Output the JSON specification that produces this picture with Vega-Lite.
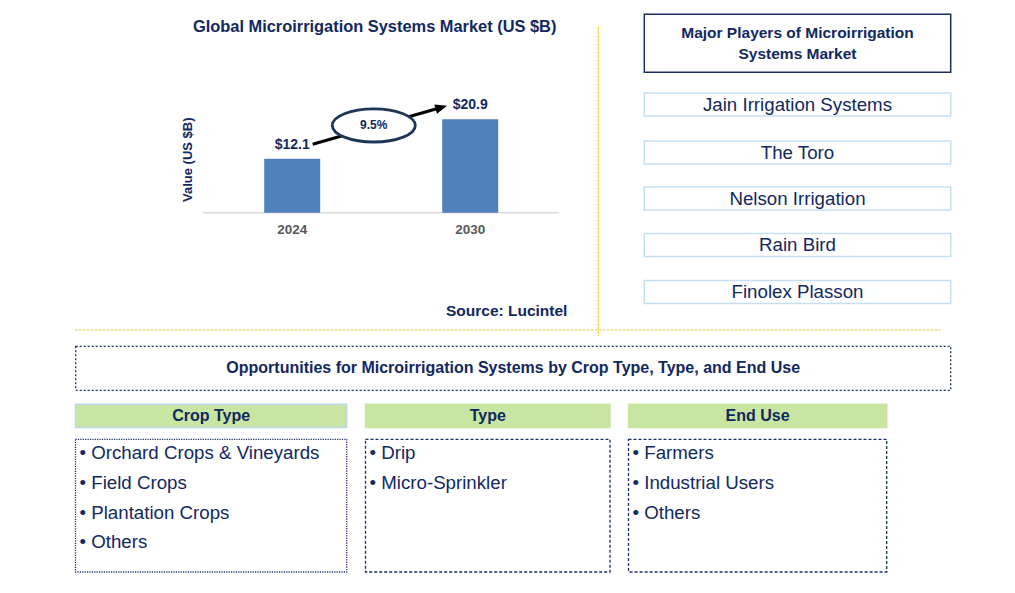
{
  "$schema": "https://vega.github.io/schema/vega-lite/v6.json",
  "width": 1015,
  "height": 593,
  "autosize": {"type": "fit", "contains": "padding"},
  "padding": 0,
  "background": "#ffffff",
  "config": {
    "view": {"stroke": null},
    "axis": {"disable": true},
    "font": "Liberation Sans",
    "text": {"font": "Liberation Sans", "baseline": "middle"}
  },
  "datasets": {
    "market": [
      {"year": 2024, "value": 12.1, "label": "$12.1"},
      {"year": 2030, "value": 20.9, "label": "$20.9"}
    ],
    "players": [
      {"player": "Jain Irrigation Systems", "rank": 1},
      {"player": "The Toro", "rank": 2},
      {"player": "Nelson Irrigation", "rank": 3},
      {"player": "Rain Bird", "rank": 4},
      {"player": "Finolex Plasson", "rank": 5}
    ],
    "groups": [
      {"group": "Crop Type", "start": 0, "end": 1},
      {"group": "Type", "start": 2, "end": 3},
      {"group": "End Use", "start": 4, "end": 5}
    ],
    "items": [
      {"group": "Crop Type", "label": "• Orchard Crops & Vineyards", "order": 1},
      {"group": "Crop Type", "label": "• Field Crops", "order": 2},
      {"group": "Crop Type", "label": "• Plantation Crops", "order": 3},
      {"group": "Crop Type", "label": "• Others", "order": 4},
      {"group": "Type", "label": "• Drip", "order": 1},
      {"group": "Type", "label": "• Micro-Sprinkler", "order": 2},
      {"group": "End Use", "label": "• Farmers", "order": 1},
      {"group": "End Use", "label": "• Industrial Users", "order": 2},
      {"group": "End Use", "label": "• Others", "order": 3}
    ]
  },
  "resolve": {"scale": {"x": "independent", "y": "independent"}},
  "layer": [
    {
      "data": {"values": [{"divider": "panels"}]},
      "layer": [
        {
          "mark": {"type": "rule", "color": "#FFC000", "strokeWidth": 1, "strokeDash": [3, 1]},
          "encoding": {
            "x": {"datum": 1, "type": "quantitative", "axis": null, "scale": {"domain": [0, 1, 2], "range": [75, 598.3, 940.7], "zero": false, "nice": false}},
            "y": {"datum": 0, "type": "quantitative", "axis": null, "scale": {"domain": [0, 1, 2], "range": [27, 330, 336], "zero": false, "nice": false}},
            "y2": {"datum": 2}
          }
        },
        {
          "mark": {"type": "rule", "color": "#FFC000", "strokeWidth": 1, "strokeDash": [3, 1], "opacity": 0.85},
          "encoding": {
            "x": {"datum": 0, "type": "quantitative"},
            "x2": {"datum": 2},
            "y": {"datum": 1, "type": "quantitative"}
          }
        }
      ]
    },
    {
      "layer": [
        {
          "data": {"values": [{"line": "baseline"}]},
          "mark": {"type": "rule", "color": "#D9D9D9", "strokeWidth": 1.5},
          "encoding": {
            "x": {"datum": 2021.0, "type": "quantitative", "axis": null, "scale": {"domain": [2024, 2030], "range": [292.2, 470.2], "zero": false, "nice": false, "padding": 0}},
            "x2": {"datum": 2033.0},
            "y": {"datum": 0, "type": "quantitative", "axis": null, "scale": {"domain": [0, 22], "range": [212.7, 114.4], "zero": false, "nice": false, "padding": 0}}
          }
        },
        {
          "data": {"name": "market"},
          "mark": {"type": "bar", "size": 56, "color": "#4F81BD"},
          "encoding": {
            "x": {"field": "year", "type": "quantitative"},
            "y": {"field": "value", "type": "quantitative"}
          }
        },
        {
          "data": {"name": "market"},
          "mark": {"type": "text", "dy": -14, "fontSize": 14, "fontWeight": "bold", "color": "#12285F"},
          "encoding": {
            "x": {"field": "year", "type": "quantitative"},
            "y": {"field": "value", "type": "quantitative"},
            "text": {"field": "label", "type": "nominal"}
          }
        },
        {
          "data": {"name": "market"},
          "mark": {"type": "text", "dy": 17.3, "fontSize": 13.5, "fontWeight": "bold", "color": "#595959"},
          "encoding": {
            "x": {"field": "year", "type": "quantitative"},
            "y": {"datum": 0, "type": "quantitative"},
            "text": {"field": "year", "type": "nominal"}
          }
        },
        {
          "data": {"values": [{"text": "Global Microirrigation Systems Market (US $B)", "year": 2026.78, "value": 41.63}]},
          "mark": {"type": "text", "fontSize": 16.4, "fontWeight": "bold", "color": "#12285F"},
          "encoding": {
            "x": {"field": "year", "type": "quantitative"},
            "y": {"field": "value", "type": "quantitative"},
            "text": {"field": "text", "type": "nominal"}
          }
        },
        {
          "data": {"values": [{"text": "Value (US $B)", "year": 2020.49, "value": 11.86}]},
          "mark": {"type": "text", "fontSize": 13, "fontWeight": "bold", "color": "#12285F", "angle": 270},
          "encoding": {
            "x": {"field": "year", "type": "quantitative"},
            "y": {"field": "value", "type": "quantitative"},
            "text": {"field": "text", "type": "nominal"}
          }
        },
        {
          "data": {"values": [{"fromYear": 2024.69, "fromValue": 15.31, "toYear": 2028.9, "toValue": 23.32}]},
          "mark": {"type": "rule", "color": "#000000", "strokeWidth": 3},
          "encoding": {
            "x": {"field": "fromYear", "type": "quantitative"},
            "y": {"field": "fromValue", "type": "quantitative"},
            "x2": {"field": "toYear"},
            "y2": {"field": "toValue"}
          }
        },
        {
          "data": {"values": [{"year": 2029.03, "value": 23.57}]},
          "mark": {"type": "point", "shape": "M1,0L-1,-0.8L-1,0.8Z", "size": 144, "angle": -16, "fill": "#000000", "stroke": null, "filled": true, "opacity": 1},
          "encoding": {
            "x": {"field": "year", "type": "quantitative"},
            "y": {"field": "value", "type": "quantitative"}
          }
        },
        {
          "data": {"values": [{"year": 2026.75, "value": 19.52, "cagr": "9.5%"}]},
          "mark": {"type": "point", "shape": "M1,0C1,0.2198,0.5523,0.398,0,0.398C-0.5523,0.398,-1,0.2198,-1,0C-1,-0.2198,-0.5523,-0.398,0,-0.398C0.5523,-0.398,1,-0.2198,1,0Z", "size": 6889, "fill": "#ffffff", "stroke": "#1E3656", "strokeWidth": 2.8, "opacity": 1, "fillOpacity": 1},
          "encoding": {
            "x": {"field": "year", "type": "quantitative"},
            "y": {"field": "value", "type": "quantitative"}
          }
        },
        {
          "data": {"values": [{"year": 2026.75, "value": 19.52, "cagr": "9.5%"}]},
          "mark": {"type": "text", "fontSize": 12, "fontWeight": "bold", "color": "#12285F"},
          "encoding": {
            "x": {"field": "year", "type": "quantitative"},
            "y": {"field": "value", "type": "quantitative"},
            "text": {"field": "cagr", "type": "nominal"}
          }
        },
        {
          "data": {"values": [{"text": "Source: Lucintel", "year": 2031.23, "value": -21.93}]},
          "mark": {"type": "text", "fontSize": 15.5, "fontWeight": "bold", "color": "#12285F"},
          "encoding": {
            "x": {"field": "year", "type": "quantitative"},
            "y": {"field": "value", "type": "quantitative"},
            "text": {"field": "text", "type": "nominal"}
          }
        }
      ]
    },
    {
      "layer": [
        {
          "data": {"name": "players"},
          "mark": {"type": "bar", "orient": "horizontal", "size": 23, "fill": "#ffffff", "stroke": "#C5DFF2", "strokeWidth": 1.5},
          "encoding": {
            "x": {"datum": 0, "type": "quantitative", "axis": null, "scale": {"domain": [0, 1], "range": [644.3, 950.7], "zero": false, "nice": false, "padding": 0}},
            "x2": {"datum": 1},
            "y": {"field": "rank", "type": "quantitative", "axis": null, "scale": {"domain": [0, 1, 2, 3, 4, 5], "range": [43.3, 104.5, 152.5, 198.5, 245, 292], "zero": false, "nice": false, "padding": 0}}
          }
        },
        {
          "data": {"name": "players"},
          "mark": {"type": "text", "fontSize": 18.7, "color": "#12285F", "align": "center"},
          "encoding": {
            "x": {"datum": 0.5, "type": "quantitative"},
            "y": {"field": "rank", "type": "quantitative"},
            "text": {"field": "player", "type": "nominal"}
          }
        },
        {
          "data": {"values": [{"heading": ["Major Players of Microirrigation", "Systems Market"]}]},
          "mark": {"type": "bar", "orient": "horizontal", "size": 58, "fill": "#ffffff", "stroke": "#1B2F63", "strokeWidth": 1.5},
          "encoding": {
            "x": {"datum": 0, "type": "quantitative"},
            "x2": {"datum": 1},
            "y": {"datum": 0, "type": "quantitative"}
          }
        },
        {
          "data": {"values": [{"heading": ["Major Players of Microirrigation", "Systems Market"]}]},
          "mark": {"type": "text", "fontSize": 15.5, "fontWeight": "bold", "color": "#12285F", "align": "center", "lineHeight": 21, "dy": -10.5},
          "encoding": {
            "x": {"datum": 0.5, "type": "quantitative"},
            "y": {"datum": 0, "type": "quantitative"},
            "text": {"field": "heading"}
          }
        }
      ]
    },
    {
      "data": {"values": [{"title": "Opportunities for Microirrigation Systems by Crop Type, Type, and End Use"}]},
      "layer": [
        {
          "mark": {"type": "rect", "fill": "#ffffff", "stroke": "#1B2F63", "strokeWidth": 1.3, "strokeDash": [2, 2]},
          "encoding": {
            "x": {"datum": 0, "type": "quantitative", "axis": null, "scale": {"domain": [0, 1], "range": [75.7, 950.7], "zero": false, "nice": false, "padding": 0}},
            "x2": {"datum": 1},
            "y": {"datum": 0, "type": "quantitative", "axis": null, "scale": {"domain": [0, 1], "range": [346.3, 390.3], "zero": false, "nice": false, "padding": 0}},
            "y2": {"datum": 1}
          }
        },
        {
          "mark": {"type": "text", "fontSize": 16, "fontWeight": "bold", "color": "#12285F", "align": "center"},
          "encoding": {
            "x": {"datum": 0.5, "type": "quantitative"},
            "y": {"datum": 0.5, "type": "quantitative"},
            "text": {"field": "title", "type": "nominal"}
          }
        }
      ]
    },
    {
      "layer": [
        {
          "data": {"name": "groups"},
          "mark": {"type": "rect", "fill": "#C8E6A1", "strokeWidth": 1.5},
          "encoding": {
            "x": {"field": "start", "type": "quantitative", "axis": null, "scale": {"domain": [0, 1, 2, 3, 4, 5], "range": [75.5, 346.7, 365.5, 610, 628.5, 886.7], "zero": false, "nice": false, "padding": 0}},
            "x2": {"field": "end"},
            "y": {"datum": -2, "type": "quantitative", "axis": null, "scale": {"domain": [-2, -1, 0, 1, 4, 5], "range": [404.3, 427.5, 439.3, 453.3, 542.4, 572], "zero": false, "nice": false, "padding": 0}},
            "y2": {"datum": -1},
            "stroke": {"field": "group", "type": "nominal", "legend": null, "scale": {"domain": ["Crop Type", "Type", "End Use"], "range": ["#BDD7EE", "#C8E6A1", "#C8E6A1"]}}
          }
        },
        {
          "data": {"name": "groups"},
          "transform": [
            {"fold": ["start", "end"], "as": ["edge", "line"]},
            {"aggregate": [{"op": "mean", "field": "line", "as": "center"}], "groupby": ["group"]}
          ],
          "mark": {"type": "text", "fontSize": 16, "fontWeight": "bold", "color": "#12285F", "align": "center"},
          "encoding": {
            "x": {"field": "center", "type": "quantitative"},
            "y": {"datum": -1.5, "type": "quantitative"},
            "text": {"field": "group", "type": "nominal"}
          }
        },
        {
          "data": {"name": "groups"},
          "transform": [{"filter": {"field": "group", "equal": "Crop Type"}}],
          "mark": {"type": "rect", "fill": "#ffffff", "stroke": "#1B2F63", "strokeWidth": 1.3, "strokeDash": [1.2, 1.2]},
          "encoding": {
            "x": {"field": "start", "type": "quantitative"},
            "x2": {"field": "end"},
            "y": {"datum": 0, "type": "quantitative"},
            "y2": {"datum": 5}
          }
        },
        {
          "data": {"name": "groups"},
          "transform": [{"filter": {"not": {"field": "group", "equal": "Crop Type"}}}],
          "mark": {"type": "rect", "fill": "#ffffff", "stroke": "#1B2F63", "strokeWidth": 1.3, "strokeDash": [3, 2]},
          "encoding": {
            "x": {"field": "start", "type": "quantitative"},
            "x2": {"field": "end"},
            "y": {"datum": 0, "type": "quantitative"},
            "y2": {"datum": 5}
          }
        },
        {
          "data": {"name": "items"},
          "transform": [
            {"lookup": "group", "from": {"data": {"name": "groups"}, "key": "group", "fields": ["start"]}}
          ],
          "mark": {"type": "text", "align": "left", "dx": 4, "fontSize": 18.7, "color": "#12285F"},
          "encoding": {
            "x": {"field": "start", "type": "quantitative"},
            "y": {"field": "order", "type": "quantitative"},
            "text": {"field": "label", "type": "nominal"}
          }
        }
      ]
    }
  ]
}
